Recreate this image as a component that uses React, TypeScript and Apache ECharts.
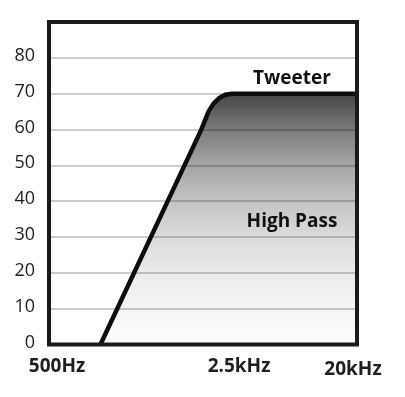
import React, { useEffect, useRef } from "react";
import * as echarts from "echarts";

// Response curve points [x position (0-100 across plot), level]
const curveX = [16.7, 49.4, 51.9, 53.5, 55.3, 57.2, 59.4, 100];
const curveY = [0, 59.9, 65.2, 67.3, 68.8, 69.7, 70, 70];

const yMin = 0;
const yMax = 90;
const yInterval = 10;

const xLabelPos = [2.6, 61.7, 98.7];
const xLabels = ["500Hz", "2.5kHz", "20kHz"];

const annotations = [
  { text: "Tweeter", x: 292, y: 77 },
  { text: "High Pass", x: 292, y: 220 },
];

const FONT = "'Open Sans', 'Noto Sans', sans-serif";

export default function App() {
  const ref = useRef<HTMLDivElement>(null);
  useEffect(() => {
    if (!ref.current) return;
    const chart = echarts.init(ref.current, undefined, { renderer: "svg" });
    const data = curveX.map((x, i) => [x, curveY[i]]);
    chart.setOption({
      animation: false,
      grid: {
        left: 49,
        right: 48,
        top: 22,
        bottom: 52.5,
        show: true,
        borderColor: "#1a1a1a",
        borderWidth: 4,
        backgroundColor: "transparent",
        z: 10,
      },
      xAxis: {
        type: "value",
        min: 0,
        max: 100,
        axisLine: { show: false },
        axisTick: { show: false },
        splitLine: { show: false },
        axisLabel: {
          customValues: xLabelPos,
          margin: 11,
          fontFamily: FONT,
          fontSize: 19,
          fontWeight: "bold",
          color: "#1e1e1e",
          formatter: (v: number) => {
            const i = xLabelPos.indexOf(v);
            if (i < 0) return "";
            if (i === 0) return "{w|" + xLabels[i] + "}";
            return i === xLabels.length - 1 ? "{d|" + xLabels[i] + "}" : xLabels[i];
          },
          rich: {
            d: {
              fontFamily: FONT,
              fontSize: 19,
              fontWeight: "bold",
              color: "#1e1e1e",
              padding: [3, 0, 0, 0],
            },
            w: {
              fontFamily: FONT,
              fontSize: 19,
              fontWeight: "bold",
              color: "#1e1e1e",
              letterSpacing: 1,
            },
          },
        },
      },
      yAxis: {
        type: "value",
        min: yMin,
        max: yMax,
        interval: yInterval,
        z: 3,
        axisLine: { show: false },
        axisTick: { show: false },
        splitLine: {
          show: true,
          lineStyle: { color: "rgba(0,0,0,0.2)", width: 2 },
        },
        axisLabel: {
          margin: 14,
          fontFamily: FONT,
          fontSize: 18,
          color: "#1e1e1e",
          formatter: (v: number) => (v === yMax ? "" : "{a|" + v + "}"),
          rich: {
            a: {
              fontFamily: FONT,
              fontSize: 18,
              color: "#1e1e1e",
              padding: [0, 0, 8, 0],
            },
          },
        },
      },
      series: [
        {
          type: "line",
          data,
          z: 2,
          showSymbol: false,
          symbol: "none",
          lineStyle: { width: 0 },
          areaStyle: {
            opacity: 1,
            color: new echarts.graphic.LinearGradient(0, 0, 0, 1, [
              { offset: 0, color: "#444444" },
              { offset: 0.14, color: "#7b7b7b" },
              { offset: 0.28, color: "#a4a4a4" },
              { offset: 0.43, color: "#c4c4c4" },
              { offset: 0.57, color: "#dbdbdb" },
              { offset: 0.71, color: "#eaeaea" },
              { offset: 0.86, color: "#f5f5f5" },
              { offset: 1, color: "#fdfdfd" },
            ]),
          },
        },
        {
          type: "line",
          data,
          z: 4,
          showSymbol: false,
          symbol: "none",
          lineStyle: { width: 4.5, color: "#0d0d0d", join: "round" },
        },
      ],
      graphic: annotations.map((a) => ({
        type: "text",
        x: a.x,
        y: a.y,
        z: 20,
        style: {
          text: a.text,
          fontFamily: FONT,
          fontSize: 19,
          fontWeight: "bold",
          fill: "#111",
          textAlign: "center",
          textVerticalAlign: "middle",
        },
      })),
    });
    return () => chart.dispose();
  }, []);
  return (
    <div
      ref={ref}
      style={{ position: "fixed", left: 0, top: 0, width: 405, height: 397 }}
    />
  );
}
